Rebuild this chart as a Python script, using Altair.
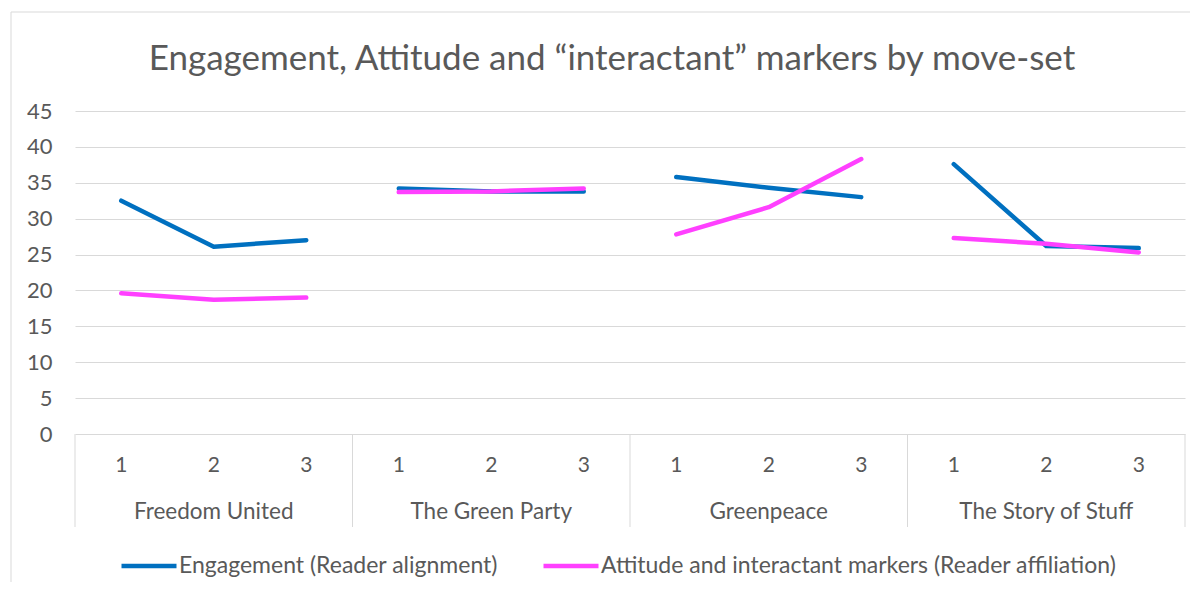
import altair as alt
import pandas as pd

groups = ["Freedom United", "The Green Party", "Greenpeace", "The Story of Stuff"]
moves = ["1", "2", "3"]
series_names = ["Engagement (Reader alignment)",
                "Attitude and interactant markers (Reader affiliation)"]
engagement = [32.5, 26.1, 27.0, 34.2, 33.8, 33.8, 35.8, 34.3, 33.0, 37.6, 26.2, 25.9]
attitude = [19.6, 18.7, 19.0, 33.7, 33.8, 34.2, 27.8, 31.6, 38.3, 27.3, 26.5, 25.3]
y_ticks = [0, 5, 10, 15, 20, 25, 30, 35, 40, 45]
colors = ["#0070C0", "#FF40FF"]

rows = []
for s_name, vals in zip(series_names, [engagement, attitude]):
    for gi, g in enumerate(groups):
        for mi, m in enumerate(moves):
            pos = gi * 3 + mi
            rows.append({"series": s_name, "group": g, "move": m, "pos": pos, "value": vals[pos]})
df = pd.DataFrame(rows)
df_moves = pd.DataFrame([{"pos": gi * 3 + mi, "move": m} for gi in range(len(groups)) for mi, m in enumerate(moves)])
df_groups = pd.DataFrame([{"pos": gi * 3 + 1, "group": g} for gi, g in enumerate(groups)])
df_bounds = pd.DataFrame({"pos": [gi * 3 - 0.5 for gi in range(len(groups) + 1)]})

W, H = 1110, 323
FONT = "Lato"
TXT = "#595959"
GRID = "#d9d9d9"

xs = alt.Scale(domain=[-0.5, 11.5])

# chart-area frame (its right and bottom edges fall outside the visible page)
border = alt.Chart(pd.DataFrame({"a": [0]})).mark_rect(fillOpacity=0, stroke=GRID, strokeWidth=1).encode(
    x=alt.value(-64), x2=alt.value(1138), y=alt.value(-99), y2=alt.value(480)
)

lines = alt.Chart(df).mark_line(strokeWidth=4.5, strokeCap="round", strokeJoin="round").encode(
    x=alt.X("pos:Q", scale=xs, axis=None),
    y=alt.Y("value:Q", scale=alt.Scale(domain=[0, 45]),
            axis=alt.Axis(values=y_ticks, title=None, grid=True, gridColor=GRID, gridWidth=1,
                          domain=False, ticks=False, labelPadding=23, labelFont=FONT,
                          labelFontSize=22, labelColor=TXT)),
    color=alt.Color("series:N", scale=alt.Scale(domain=series_names, range=colors),
                    legend=alt.Legend(orient="none", legendX=44, legendY=425, direction="horizontal",
                                      title=None, symbolType="stroke", symbolSize=3025,
                                      symbolStrokeWidth=4.5, labelFont=FONT, labelFontSize=23,
                                      labelColor=TXT, labelOffset=0, columnPadding=36,
                                      labelLimit=0)),
    detail="group:N",
)

seps = alt.Chart(df_bounds).mark_rule(color=GRID, strokeWidth=1).encode(
    x=alt.X("pos:Q", scale=xs, axis=None), y=alt.value(H), y2=alt.value(H + 93)
)

move_text = alt.Chart(df_moves).mark_text(font=FONT, fontSize=21, color=TXT, baseline="middle").encode(
    x=alt.X("pos:Q", scale=xs, axis=None), y=alt.value(H + 32), text="move:N"
)

group_text = alt.Chart(df_groups).mark_text(font=FONT, fontSize=22.5, color=TXT, baseline="middle").encode(
    x=alt.X("pos:Q", scale=xs, axis=None), y=alt.value(H + 78), text="group:N"
)

chart = alt.layer(border, seps, lines, move_text, group_text).properties(
    width=W, height=H,
    title=alt.TitleParams("Engagement, Attitude and \u201cinteractant\u201d markers by move-set",
                          font=FONT, fontSize=35, fontWeight="normal", color=TXT,
                          anchor="middle", frame="bounds", offset=-65),
    autosize=alt.AutoSizeParams(type="none"),
    padding={"left": 67, "top": 103, "right": 5, "bottom": 148},
    background="white",
).configure_view(stroke=None)

chart.save("out.html", embed_options={"renderer": "svg", "actions": False})
